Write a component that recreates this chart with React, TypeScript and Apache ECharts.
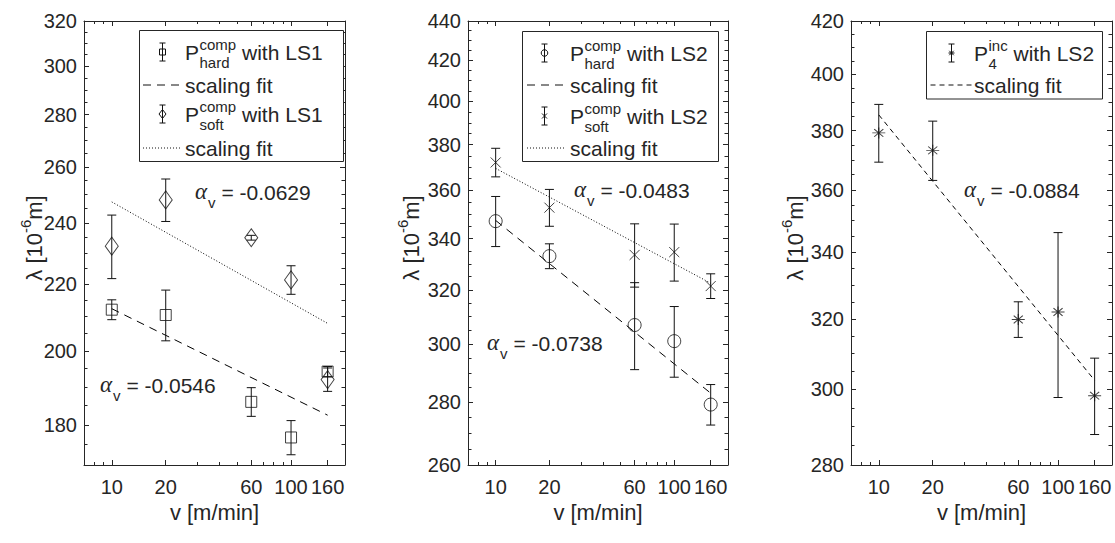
import React, { useEffect, useRef } from "react";
import * as echarts from "echarts";

// ---------------- data ----------------
const velocities = [10, 20, 60, 100, 160];
const fitVelocities = [10, 160];

const xTickValues = [10, 20, 60, 100, 160];
const xMinorTickValues = [7, 8, 9, 30, 40, 50, 70, 80, 90, 200];

const p1YTicks = [180, 200, 220, 240, 260, 280, 300, 320];
const p2YTicks = [260, 280, 300, 320, 340, 360, 380, 400, 420, 440];
const p3YTicks = [280, 300, 320, 340, 360, 380, 400, 420];
const p1YRange = [170, 320];
const p2YRange = [260, 440];
const p3YRange = [280, 420];

const hardLS1 = [212.1, 210.5, 186.0, 176.8, 194.2];
const hardLS1Err = [3.0, 7.6, 3.8, 4.3, 1.4];
const softLS1 = [232.2, 248.0, 235.0, 221.3, 192.0];
const softLS1Err = [10.5, 7.5, 0.8, 4.5, 3.2];
const fitHardLS1 = [212.4, 182.5];
const fitSoftLS1 = [247.3, 208.0];

const hardLS2 = [347.1, 333.0, 306.9, 301.1, 279.3];
const hardLS2Err = [10.3, 4.9, 15.8, 12.6, 6.7];
const softLS2 = [372.1, 352.7, 333.5, 334.6, 321.4];
const softLS2Err = [6.3, 7.7, 12.5, 11.3, 4.7];
const fitHardLS2 = [347.4, 283.1];
const fitSoftLS2 = [369.5, 322.5];

const incLS2 = [379.2, 373.2, 319.8, 322.0, 298.3];
const incLS2Err = [10.0, 10.1, 5.2, 24.2, 10.4];
const fitIncLS2 = [385.5, 302.5];

const alphaValues = ["-0.0546", "-0.0629", "-0.0738", "-0.0483", "-0.0884"];

// ---------------- styling ----------------
const FONT = "'Liberation Sans', Arial, Helvetica, sans-serif";
const SERIF = "'Liberation Serif', 'Times New Roman', serif";
const TXT = "#262626";
const AX = "#262626";
const INK = "#111111";
const GRID_TOP = 21;
const GRID_H = 444;
const TICK_FS = 20;
const TITLE_FS = 22;
const LEG_FS = 21;
const LEG_SUB_FS = 15;

const X_PATH = "path://M0,0L10,10M0,10L10,0";
const STAR_PATH = "path://M0,5L10,5M5,0L5,10M1.5,1.5L8.5,8.5M1.5,8.5L8.5,1.5";

function minorTicks(range: number[], majors: number[]) {
  const out: number[] = [];
  for (let v = range[0]; v <= range[1] + 1e-9; v += 5) {
    if (majors.indexOf(v) < 0) out.push(v);
  }
  return out;
}

let measureCtx: CanvasRenderingContext2D | null = null;
function tw(s: string, size: number, family = FONT, style = "normal") {
  if (!measureCtx) measureCtx = document.createElement("canvas").getContext("2d");
  measureCtx!.font = `${style} ${size}px ${family}`;
  return measureCtx!.measureText(s).width;
}

function txt(x: number, y: number, s: string, size: number, family = FONT, style = "normal", align = "left") {
  return {
    type: "text",
    x,
    y,
    silent: true,
    z: 20,
    style: {
      text: s,
      fontSize: size,
      fontFamily: family,
      fontStyle: style,
      fill: TXT,
      align,
      verticalAlign: "middle",
      textAlign: align,
      textVerticalAlign: "middle",
    },
  };
}

function App() {
  const ref = useRef<HTMLDivElement>(null);

  useEffect(() => {
    if (!ref.current) return;
    const chart = echarts.init(ref.current, null, { renderer: "svg" });

    const panels = [
      { left: 84, width: 261, yRange: p1YRange, yTicks: p1YTicks },
      { left: 468, width: 260, yRange: p2YRange, yTicks: p2YTicks },
      { left: 851, width: 261, yRange: p3YRange, yTicks: p3YTicks },
    ];

    const grids: any[] = [];
    const xAxes: any[] = [];
    const yAxes: any[] = [];

    const labelStyle = { fontSize: TICK_FS, color: TXT, fontFamily: FONT };
    const titleStyle = { fontSize: TITLE_FS, color: TXT, fontFamily: FONT };
    const lineCol = { lineStyle: { color: AX, width: 1 } };

    panels.forEach((p, i) => {
      grids.push({ left: p.left, top: GRID_TOP, width: p.width, height: GRID_H, containLabel: false });
      const xb = { type: "log", logBase: 10, min: 7 * 0.999999, max: 200 * 1.000001, gridIndex: i, splitLine: { show: false } };
      const majTick = { show: true, inside: true, length: 5, customValues: xTickValues, ...lineCol };
      const minTick = { show: true, inside: true, length: 3, customValues: xMinorTickValues, ...lineCol };
      xAxes.push({
        ...xb,
        position: "bottom",
        axisLine: { show: true, ...lineCol },
        axisTick: majTick,
        axisLabel: { show: true, customValues: xTickValues, formatter: (v: number) => String(Math.round(v)), margin: 12, ...labelStyle },
        name: "v [m/min]",
        nameLocation: "middle",
        nameGap: 30,
        nameTextStyle: titleStyle,
      });
      xAxes.push({ ...xb, position: "top", axisLine: { show: true, ...lineCol }, axisTick: majTick, axisLabel: { show: false } });
      xAxes.push({ ...xb, position: "bottom", axisLine: { show: false }, axisTick: minTick, axisLabel: { show: false } });
      xAxes.push({ ...xb, position: "top", axisLine: { show: false }, axisTick: minTick, axisLabel: { show: false } });

      const yb = { type: "log", logBase: 10, min: p.yRange[0] * 0.999999, max: p.yRange[1] * 1.000001, gridIndex: i, splitLine: { show: false } };
      const yMaj = { show: true, inside: true, length: 5, customValues: p.yTicks, ...lineCol };
      const yMin = { show: true, inside: true, length: 3.5, customValues: minorTicks(p.yRange, p.yTicks), ...lineCol };
      yAxes.push({
        ...yb,
        position: "left",
        axisLine: { show: true, ...lineCol },
        axisTick: yMaj,
        axisLabel: { show: true, customValues: p.yTicks, formatter: (v: number) => String(Math.round(v)), margin: 7, ...labelStyle },
      });
      yAxes.push({ ...yb, position: "right", axisLine: { show: true, ...lineCol }, axisTick: yMaj, axisLabel: { show: false } });
      yAxes.push({ ...yb, position: "left", axisLine: { show: false }, axisTick: yMin, axisLabel: { show: false } });
      yAxes.push({ ...yb, position: "right", axisLine: { show: false }, axisTick: yMin, axisLabel: { show: false } });
    });

    const errorSeries = (p: number, vals: number[], errs: number[]) => ({
      type: "custom",
      xAxisIndex: 4 * p,
      yAxisIndex: 4 * p,
      z: 3,
      silent: true,
      data: velocities.map((v, i) => [v, vals[i] - errs[i], vals[i] + errs[i]]),
      encode: { x: 0, y: [1, 2] },
      renderItem: (_params: any, api: any) => {
        const x = api.value(0);
        const lo = api.coord([x, api.value(1)]);
        const hi = api.coord([x, api.value(2)]);
        const w = 4.5;
        const st = { stroke: INK, lineWidth: 1, fill: "none" };
        return {
          type: "group",
          children: [
            { type: "line", shape: { x1: lo[0], y1: lo[1], x2: hi[0], y2: hi[1] }, style: st },
            { type: "line", shape: { x1: lo[0] - w, y1: lo[1], x2: lo[0] + w, y2: lo[1] }, style: st },
            { type: "line", shape: { x1: hi[0] - w, y1: hi[1], x2: hi[0] + w, y2: hi[1] }, style: st },
          ],
        };
      },
    });

    const markerSeries = (p: number, vals: number[], symbol: string, size: any) => ({
      type: "scatter",
      xAxisIndex: 4 * p,
      yAxisIndex: 4 * p,
      z: 4,
      silent: true,
      symbol,
      symbolSize: size,
      data: velocities.map((v, i) => [v, vals[i]]),
      itemStyle: { color: "rgba(0,0,0,0)", borderColor: INK, borderWidth: 1 },
    });

    const fitSeries = (p: number, ends: number[], dash: number[]) => ({
      type: "line",
      xAxisIndex: 4 * p,
      yAxisIndex: 4 * p,
      z: 2,
      silent: true,
      symbol: "none",
      data: fitVelocities.map((v, i) => [v, ends[i]]),
      lineStyle: { color: "#000", width: 1, type: dash },
    });

    const series = [
      errorSeries(0, hardLS1, hardLS1Err),
      markerSeries(0, hardLS1, "rect", 11),
      errorSeries(0, softLS1, softLS1Err),
      markerSeries(0, softLS1, "diamond", [13, 18]),
      fitSeries(0, fitHardLS1, [8, 6]),
      fitSeries(0, fitSoftLS1, [1, 2]),
      errorSeries(1, hardLS2, hardLS2Err),
      markerSeries(1, hardLS2, "circle", 13),
      errorSeries(1, softLS2, softLS2Err),
      markerSeries(1, softLS2, X_PATH, 10),
      fitSeries(1, fitHardLS2, [8, 6]),
      fitSeries(1, fitSoftLS2, [1, 2]),
      errorSeries(2, incLS2, incLS2Err),
      markerSeries(2, incLS2, STAR_PATH, [13, 11]),
      fitSeries(2, fitIncLS2, [5, 4]),
    ];

    // ---------------- graphics: legends, annotations, y titles ----------------
    const g: any[] = [];
    const lineStyle = (dash?: number[]) => ({ stroke: INK, lineWidth: 1, lineDash: dash, fill: "none" });

    const legendMarker = (cx: number, cy: number, kind: string) => {
      const st = { stroke: INK, lineWidth: 1, fill: "none" };
      const out: any[] = [
        { type: "line", z: 21, silent: true, shape: { x1: cx, y1: cy - 9, x2: cx, y2: cy + 9 }, style: st },
        { type: "line", z: 21, silent: true, shape: { x1: cx - 3, y1: cy - 9, x2: cx + 3, y2: cy - 9 }, style: st },
        { type: "line", z: 21, silent: true, shape: { x1: cx - 3, y1: cy + 9, x2: cx + 3, y2: cy + 9 }, style: st },
      ];
      if (kind === "square") out.push({ type: "rect", z: 21, silent: true, shape: { x: cx - 3, y: cy - 3, width: 6, height: 6 }, style: st });
      if (kind === "diamond") out.push({ type: "polygon", z: 21, silent: true, shape: { points: [[cx, cy - 4.5], [cx + 3.5, cy], [cx, cy + 4.5], [cx - 3.5, cy]] }, style: st });
      if (kind === "circle") out.push({ type: "circle", z: 21, silent: true, shape: { cx, cy, r: 3.3 }, style: st });
      if (kind === "cross") {
        out.push({ type: "line", z: 21, silent: true, shape: { x1: cx - 2.5, y1: cy - 2.5, x2: cx + 2.5, y2: cy + 2.5 }, style: st });
        out.push({ type: "line", z: 21, silent: true, shape: { x1: cx - 2.5, y1: cy + 2.5, x2: cx + 2.5, y2: cy - 2.5 }, style: st });
      }
      if (kind === "star") {
        out.push({ type: "line", z: 21, silent: true, shape: { x1: cx - 3, y1: cy, x2: cx + 3, y2: cy }, style: st });
        out.push({ type: "line", z: 21, silent: true, shape: { x1: cx - 2.2, y1: cy - 2.2, x2: cx + 2.2, y2: cy + 2.2 }, style: st });
        out.push({ type: "line", z: 21, silent: true, shape: { x1: cx - 2.2, y1: cy + 2.2, x2: cx + 2.2, y2: cy - 2.2 }, style: st });
      }
      return out;
    };

    const pLabel = (x: number, y: number, sup: string, sub: string, rest: string) => {
      const out: any[] = [];
      out.push(txt(x, y, "P", LEG_FS));
      const x1 = x + tw("P", LEG_FS) + 0.5;
      out.push(txt(x1, y - 8, sup, LEG_SUB_FS));
      out.push(txt(x1, y + 10, sub, LEG_SUB_FS));
      const x2 = x1 + Math.max(tw(sup, LEG_SUB_FS), tw(sub, LEG_SUB_FS));
      out.push(txt(x2, y, rest, LEG_FS));
      return out;
    };

    const legend = (box: number[], iconX: number, lineX: number[], textX: number, rows: any[]) => {
      g.push({ type: "rect", z: 19, silent: true, shape: { x: box[0], y: box[1], width: box[2], height: box[3] }, style: { fill: "#fff", stroke: AX, lineWidth: 1 } });
      rows.forEach((r) => {
        if (r.kind === "err") {
          g.push(...legendMarker(iconX, r.y, r.marker));
          g.push(...pLabel(textX, r.y, r.sup, r.sub, r.rest));
        } else {
          g.push({ type: "line", z: 21, silent: true, shape: { x1: lineX[0], y1: r.y, x2: lineX[1], y2: r.y }, style: lineStyle(r.dash) });
          g.push(txt(textX, r.y, "scaling fit", LEG_FS));
        }
      });
    };

    legend([139.5, 30.5, 204, 131], 162.5, [143, 182], 185, [
      { kind: "err", y: 52, marker: "square", sup: "comp", sub: "hard", rest: " with LS1" },
      { kind: "fit", y: 85, dash: [8, 6] },
      { kind: "err", y: 114, marker: "diamond", sup: "comp", sub: "soft", rest: " with LS1" },
      { kind: "fit", y: 148, dash: [1, 2] },
    ]);
    legend([522.5, 31.5, 196, 130], 544.5, [527, 566], 570, [
      { kind: "err", y: 53, marker: "circle", sup: "comp", sub: "hard", rest: " with LS2" },
      { kind: "fit", y: 85, dash: [8, 6] },
      { kind: "err", y: 116, marker: "cross", sup: "comp", sub: "soft", rest: " with LS2" },
      { kind: "fit", y: 148, dash: [1, 2] },
    ]);
    legend([926.5, 31.5, 176, 67.5], 951.5, [930.5, 972], 974, [
      { kind: "err", y: 53, marker: "star", sup: "inc", sub: "4", rest: " with LS2" },
      { kind: "fit", y: 85, dash: [5, 4] },
    ]);

    const alphaText = (x: number, y: number, val: string) => {
      g.push(txt(x, y - 1, "\u03b1", 23, SERIF, "italic"));
      const x1 = x + tw("\u03b1", 23, SERIF, "italic") + 1;
      g.push(txt(x1, y + 10, "v", 15));
      const x2 = x1 + tw("v", 15);
      g.push(txt(x2, y, " = " + val, 21));
    };
    alphaText(100, 385, alphaValues[0]);
    alphaText(195, 192, alphaValues[1]);
    alphaText(487, 343, alphaValues[2]);
    alphaText(574, 190, alphaValues[3]);
    alphaText(964, 190, alphaValues[4]);

    const yTitle = (cx: number, cy: number) => {
      const a = "\u03bb [10";
      const b = "-6";
      const c = "m]";
      const wa = tw(a, TITLE_FS), wb = tw(b, 15), wc = tw(c, TITLE_FS);
      const total = wa + wb + wc;
      const x0 = -total / 2;
      g.push({
        type: "group",
        x: cx,
        y: cy,
        rotation: Math.PI / 2,
        silent: true,
        children: [txt(x0, 0, a, TITLE_FS), txt(x0 + wa, -9, b, 15), txt(x0 + wa + wb, 0, c, TITLE_FS)],
      });
    };
    yTitle(34, 238);
    yTitle(411, 238);
    yTitle(795, 238);

    chart.setOption({
      animation: false,
      backgroundColor: "#ffffff",
      grid: grids,
      xAxis: xAxes,
      yAxis: yAxes,
      series,
      graphic: { elements: g },
    });

    return () => chart.dispose();
  }, []);

  return <div ref={ref} style={{ position: "absolute", left: 0, top: 0, width: 1115, height: 543 }} />;
}

export default App;
